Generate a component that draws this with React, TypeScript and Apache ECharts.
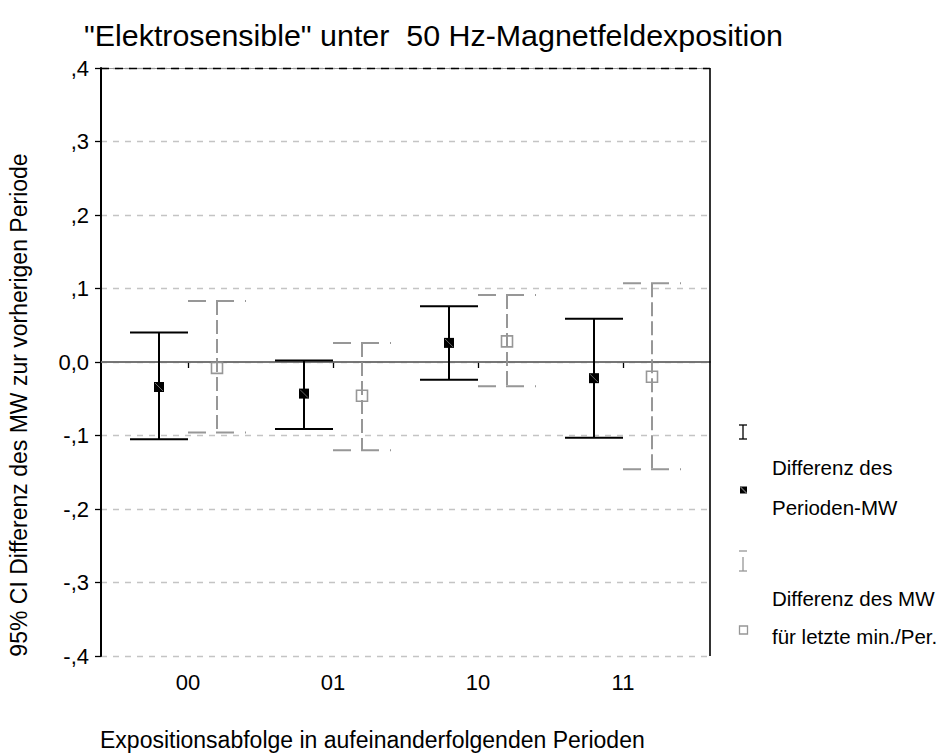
import React, { useEffect, useRef } from "react";
import * as echarts from "echarts";

const categories = ["00", "01", "10", "11"];
// Differenz des Perioden-MW (95% CI)
const meanPeriod = [-0.034, -0.043, 0.026, -0.022];
const lowPeriod = [-0.105, -0.091, -0.024, -0.103];
const highPeriod = [0.04, 0.002, 0.076, 0.059];
// Differenz des MW für letzte min./Per. (95% CI)
const meanLast = [-0.008, -0.046, 0.028, -0.02];
const lowLast = [-0.096, -0.12, -0.033, -0.146];
const highLast = [0.083, 0.026, 0.091, 0.107];
const yTicks = [-0.4, -0.3, -0.2, -0.1, 0, 0.1, 0.2, 0.3, 0.4];

const FONT = "'Liberation Sans', Arial, sans-serif";
const GREY = "#979797";
const OFF = 0.2;
const CAP = 29;

function fmtY(v: number): string {
  if (Math.abs(v) < 1e-9) return "0,0";
  const s = Math.abs(v).toFixed(1).replace(/^0\./, ",");
  return (v < 0 ? "-" : "") + s;
}

export default function App() {
  const ref = useRef<HTMLDivElement>(null);
  useEffect(() => {
    if (!ref.current) return;
    const chart = echarts.init(ref.current, undefined, { renderer: "svg" });
    const dataP = categories.map((_, i) => [i, lowPeriod[i], highPeriod[i], meanPeriod[i]]);
    const dataL = categories.map((_, i) => [i, lowLast[i], highLast[i], meanLast[i]]);

    const renderP = (params: any, api: any) => {
      const x = api.value(0) - OFF;
      const lo = api.coord([x, api.value(1)]);
      const hi = api.coord([x, api.value(2)]);
      const m = api.coord([x, api.value(3)]);
      const st = { stroke: "#000", lineWidth: 2 };
      return {
        type: "group",
        children: [
          { type: "line", shape: { x1: hi[0], y1: hi[1], x2: lo[0], y2: lo[1] }, style: st },
          { type: "line", shape: { x1: hi[0] - CAP, y1: hi[1], x2: hi[0] + CAP, y2: hi[1] }, style: st },
          { type: "line", shape: { x1: lo[0] - CAP, y1: lo[1], x2: lo[0] + CAP, y2: lo[1] }, style: st },
          { type: "rect", shape: { x: m[0] - 5, y: m[1] - 5, width: 10, height: 10 }, style: { fill: "#000" } },
          { type: "line", shape: { x1: m[0] - 4, y1: m[1] - 4, x2: m[0] + 4, y2: m[1] + 4 }, style: { stroke: "#666", lineWidth: 1 } },
        ],
      };
    };
    const renderL = (params: any, api: any) => {
      const x = api.value(0) + OFF;
      const lo = api.coord([x, api.value(1)]);
      const hi = api.coord([x, api.value(2)]);
      const m = api.coord([x, api.value(3)]);
      const capStyle = { stroke: GREY, lineWidth: 2, lineDash: [18, 10, 18, 11, 2, 200] };
      return {
        type: "group",
        children: [
          { type: "line", shape: { x1: hi[0], y1: hi[1], x2: lo[0], y2: lo[1] }, style: { stroke: GREY, lineWidth: 2, lineDash: [14, 5] } },
          { type: "line", shape: { x1: hi[0] - CAP, y1: hi[1], x2: hi[0] + CAP, y2: hi[1] }, style: capStyle },
          { type: "line", shape: { x1: lo[0] - CAP, y1: lo[1], x2: lo[0] + CAP, y2: lo[1] }, style: capStyle },
          { type: "rect", shape: { x: m[0] - 5.5, y: m[1] - 5.5, width: 11, height: 11 }, style: { fill: "none", stroke: GREY, lineWidth: 1.6 } },
        ],
      };
    };

    const legendTxt = (t: string, y: number) => ({
      type: "text",
      x: 772,
      y,
      style: { text: t, fontSize: 20.5, fontFamily: FONT, fill: "#000", verticalAlign: "middle" },
    });
    const ln = (x1: number, y1: number, x2: number, y2: number, stroke: string) => ({
      type: "line",
      shape: { x1, y1, x2, y2 },
      style: { stroke, lineWidth: 1.3 },
    });

    chart.setOption({
      animation: false,
      backgroundColor: "#fff",
      grid: { left: 101, right: 235, top: 68, bottom: 100 },
      xAxis: {
        type: "value",
        min: -0.6,
        max: 3.6,
        axisLine: { show: true, lineStyle: { color: "#000", width: 1.5 } },
        axisTick: { show: true, customValues: [0, 1, 2, 3], length: 6, lineStyle: { color: "#000", width: 1.3 } },
        axisLabel: {
          customValues: [0, 1, 2, 3],
          formatter: (v: number) => categories[Math.round(v)] ?? "",
          fontSize: 22,
          fontFamily: FONT,
          color: "#000",
          margin: 15,
        },
        splitLine: { show: false },
      },
      yAxis: {
        type: "value",
        min: -0.4,
        max: 0.4,
        interval: 0.1,
        axisLine: { show: true, onZero: false, lineStyle: { color: "#000", width: 2 } },
        axisTick: { show: true, length: 6, lineStyle: { color: "#000", width: 1.3 } },
        axisLabel: {
          formatter: (v: number) => fmtY(v),
          fontSize: 22,
          fontFamily: FONT,
          color: "#000",
          margin: 12,
        },
        splitLine: { show: true, lineStyle: { color: "#c4c4c4", type: [6, 6], width: 1.3 } },
      },
      series: [
        {
          type: "custom",
          name: "Differenz des Perioden-MW",
          data: dataP,
          encode: { x: 0, y: [1, 2, 3] },
          renderItem: renderP,
          z: 5,
          markLine: {
            silent: true,
            symbol: "none",
            label: { show: false },
            data: [
              { yAxis: yTicks[4], lineStyle: { color: "#8a8a8a", type: "solid", width: 1.6 } },
              { yAxis: yTicks[8], lineStyle: { color: "#9a9a9a", type: "solid", width: 1 } },
              { yAxis: yTicks[8], lineStyle: { color: "#000", type: [8, 6], width: 1.3 } },
              { xAxis: 3.6, lineStyle: { color: "#000", type: "solid", width: 1.6 } },
            ],
          },
        },
        {
          type: "custom",
          name: "Differenz des MW für letzte min./Per.",
          data: dataL,
          encode: { x: 0, y: [1, 2, 3] },
          renderItem: renderL,
          z: 4,
        },
      ],
      graphic: [
        {
          type: "text",
          x: 84,
          y: 35,
          style: {
            text: '"Elektrosensible" unter  50 Hz-Magnetfeldexposition',
            fontSize: 30.4,
            fontFamily: FONT,
            fill: "#000",
            verticalAlign: "middle",
          },
        },
        {
          type: "text",
          x: 19,
          y: 405,
          rotation: Math.PI / 2,
          style: {
            text: "95% CI Differenz des MW zur vorherigen Periode",
            fontSize: 23,
            fontFamily: FONT,
            fill: "#000",
            align: "center",
            verticalAlign: "middle",
          },
        },
        {
          type: "text",
          x: 100,
          y: 740,
          style: {
            text: "Expositionsabfolge in aufeinanderfolgenden Perioden",
            fontSize: 23,
            fontFamily: FONT,
            fill: "#000",
            verticalAlign: "middle",
          },
        },
        ln(739, 425, 747, 425, "#000"),
        ln(743, 425, 743, 439, "#000"),
        ln(739, 439, 747, 439, "#000"),
        legendTxt("Differenz des", 467),
        { type: "rect", shape: { x: 740, y: 486.5, width: 7, height: 7 }, style: { fill: "#000" } },
        ln(740.5, 487, 746.5, 493, "#666"),
        legendTxt("Perioden-MW", 507),
        ln(739, 551, 747, 551, GREY),
        ln(743, 557, 743, 571, GREY),
        ln(739, 571, 747, 571, GREY),
        legendTxt("Differenz des MW", 598),
        { type: "rect", shape: { x: 739.5, y: 626, width: 8, height: 8 }, style: { fill: "none", stroke: GREY, lineWidth: 1.3 } },
        legendTxt("für letzte min./Per.", 636),
      ],
    });
    return () => chart.dispose();
  }, []);
  return (
    <div
      ref={ref}
      style={{ position: "absolute", left: 0, top: 0, width: 945, height: 756 }}
    />
  );
}
